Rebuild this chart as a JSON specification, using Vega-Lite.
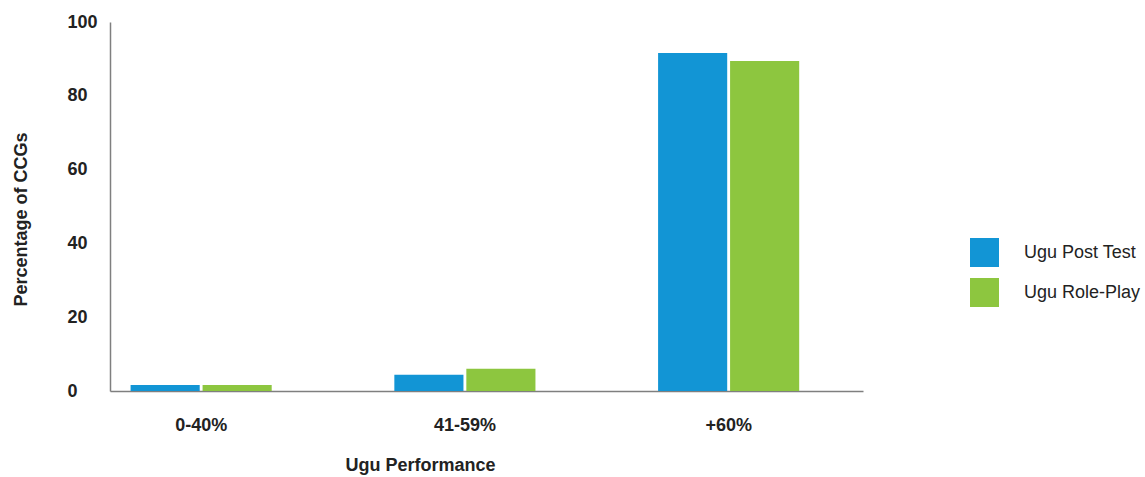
{
  "$schema": "https://vega.github.io/schema/vega-lite/v6.json",
  "width": 753,
  "height": 369,
  "autosize": {"type": "none"},
  "padding": {"left": 110, "top": 22, "right": 282, "bottom": 86},
  "background": "white",
  "config": {
    "view": {"stroke": null},
    "font": "Liberation Sans"
  },
  "data": {
    "values": [
      {"band": "0-40%", "series": "Ugu Post Test", "pct": 1.6},
      {"band": "0-40%", "series": "Ugu Role-Play", "pct": 1.6},
      {"band": "41-59%", "series": "Ugu Post Test", "pct": 4.4},
      {"band": "41-59%", "series": "Ugu Role-Play", "pct": 6.0},
      {"band": "+60%", "series": "Ugu Post Test", "pct": 91.6},
      {"band": "+60%", "series": "Ugu Role-Play", "pct": 89.4}
    ]
  },
  "mark": {"type": "bar"},
  "encoding": {
    "x": {
      "field": "band",
      "type": "nominal",
      "sort": ["0-40%", "41-59%", "+60%"],
      "scale": {"paddingInner": 0.465, "paddingOuter": 0.16, "align": 0.244},
      "axis": {
        "title": "Ugu Performance",
        "labelAngle": 0,
        "labelFont": "Liberation Sans",
        "labelFontSize": 18,
        "labelFontWeight": "bold",
        "labelColor": "#222222",
        "labelPadding": 25,
        "ticks": false,
        "domainColor": "#7f7f7f",
        "domainWidth": 1.5,
        "titleFont": "Liberation Sans",
        "titleFontSize": 18,
        "titleFontWeight": "bold",
        "titleColor": "#222222",
        "titleX": 310,
        "titleY": 79,
        "titleBaseline": "alphabetic",
        "titleAlign": "center"
      }
    },
    "xOffset": {
      "field": "series",
      "type": "nominal",
      "scale": {"paddingInner": 0.04, "paddingOuter": 0}
    },
    "y": {
      "field": "pct",
      "type": "quantitative",
      "scale": {"domain": [0, 100], "nice": false},
      "axis": {
        "title": "Percentage of CCGs",
        "values": [0, 20, 40, 60, 80, 100],
        "grid": false,
        "ticks": false,
        "labelFont": "Liberation Sans",
        "labelFontSize": 18,
        "labelFontWeight": "bold",
        "labelColor": "#222222",
        "labelAlign": "left",
        "labelPadding": 43,
        "domainColor": "#7f7f7f",
        "domainWidth": 1.5,
        "titleFont": "Liberation Sans",
        "titleFontSize": 18,
        "titleFontWeight": "bold",
        "titleColor": "#222222",
        "titleAngle": -90,
        "titleX": -84,
        "titleY": 197,
        "titleBaseline": "alphabetic",
        "titleAlign": "center"
      }
    },
    "color": {
      "field": "series",
      "type": "nominal",
      "scale": {"domain": ["Ugu Post Test", "Ugu Role-Play"], "range": ["#1295d5", "#8dc63f"]},
      "legend": {
        "title": null,
        "orient": "none",
        "legendX": 860,
        "legendY": 216,
        "padding": 0,
        "symbolType": "square",
        "symbolSize": 841,
        "symbolStrokeWidth": 0,
        "rowPadding": 11,
        "labelOffset": 25,
        "labelFont": "Liberation Sans",
        "labelFontSize": 18,
        "labelColor": "#222222"
      }
    }
  }
}
